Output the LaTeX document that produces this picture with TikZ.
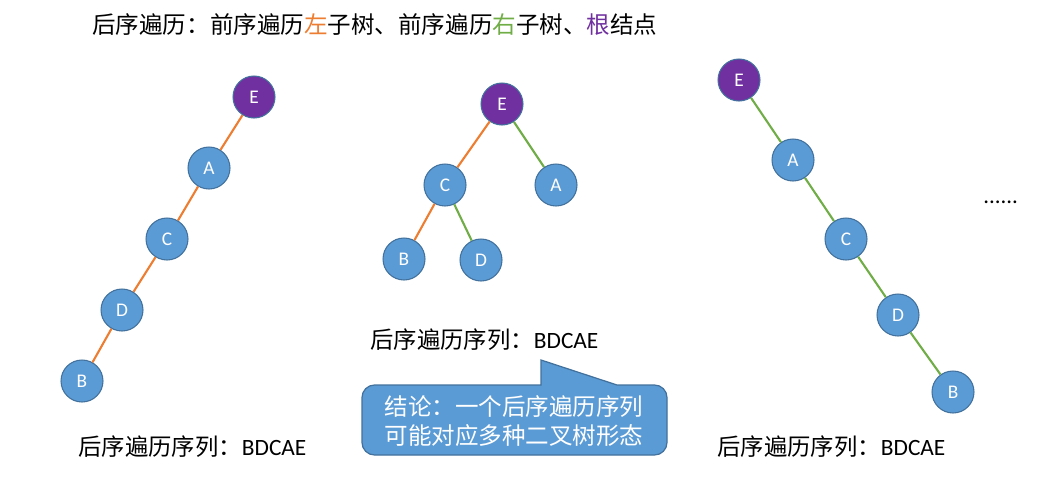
\documentclass[tikz,border=0pt]{standalone}
\usepackage{fontspec}
\setmainfont{Carlito}
\newfontfamily\cjk{Noto Sans CJK SC}
\definecolor{nodeblue}{HTML}{5B9BD5}
\definecolor{nodeline}{HTML}{41719C}
\definecolor{rootpurple}{HTML}{7030A0}
\definecolor{leftorange}{HTML}{ED7D31}
\definecolor{rightgreen}{HTML}{70AD47}
\begin{document}
\begin{tikzpicture}[x=0.02cm,y=-0.02cm,
    treenode/.style={circle,draw=nodeline,line width=0.6pt,fill=nodeblue,
        minimum size=0.84cm,inner sep=0pt,text=white,font=\fontsize{11}{13}\selectfont},
    rootnode/.style={treenode,fill=rootpurple},
    leftedge/.style={leftorange,line width=1.2pt},
    rightedge/.style={rightgreen,line width=1.2pt},
    label text/.style={inner sep=0pt,anchor=west,font=\fontsize{13.3}{16}\selectfont}]
    \useasboundingbox (0,0) rectangle (1055,477);

    % Titulo
    \node[label text,font=\fontsize{13.4}{16}\selectfont] (title) at (92,25)
        {\cjk 后序遍历：前序遍历\textcolor{leftorange}{左}子树、前序遍历\textcolor{rightgreen}{右}子树、\textcolor{rootpurple}{根}结点};

    % Primer arbol
    \node[rootnode] (e1) at (254,97) {E};
    \node[treenode] (a1) at (209,168) {A};
    \node[treenode] (c1) at (167,239) {C};
    \node[treenode] (d1) at (122,310) {D};
    \node[treenode] (b1) at (82,381) {B};
    \draw[leftedge] (e1) -- (a1);
    \draw[leftedge] (a1) -- (c1);
    \draw[leftedge] (c1) -- (d1);
    \draw[leftedge] (d1) -- (b1);
    \node[label text] (seq1) at (78,447) {{\cjk 后序遍历序列：}BDCAE};

    % Segundo arbol
    \node[rootnode] (e2) at (502,104) {E};
    \node[treenode] (c2) at (445,185) {C};
    \node[treenode] (a2) at (556,185) {A};
    \node[treenode] (b2) at (404,259) {B};
    \node[treenode] (d2) at (481,260) {D};
    \draw[leftedge] (e2) -- (c2);
    \draw[rightedge] (e2) -- (a2);
    \draw[leftedge] (c2) -- (b2);
    \draw[rightedge] (c2) -- (d2);
    \node[label text] (seq2) at (370,340) {{\cjk 后序遍历序列：}BDCAE};

    % Tercer arbol
    \node[rootnode] (e3) at (739,80) {E};
    \node[treenode] (a3) at (793,160) {A};
    \node[treenode] (c3) at (846,239) {C};
    \node[treenode] (d3) at (898,315) {D};
    \node[treenode] (b3) at (953,392) {B};
    \draw[rightedge] (e3) -- (a3);
    \draw[rightedge] (a3) -- (c3);
    \draw[rightedge] (c3) -- (d3);
    \draw[rightedge] (d3) -- (b3);
    \node[label text] (seq3) at (717,447) {{\cjk 后序遍历序列：}BDCAE};

    % Puntos
    \node[inner sep=0pt,anchor=base west,font=\fontsize{13}{16}\selectfont] (dots) at (983,203) {......};

    % Conclusion
    \draw[fill=nodeblue,draw=nodeline,line width=0.7pt]
        (541,385) -- (541,360) -- (617,385)
        [rounded corners=0.25cm] -- (667,385) -- (667,455) -- (362,455) -- (362,385)
        [sharp corners] -- cycle;
    \node[text=white,align=center,inner sep=0pt,font=\fontsize{13.4}{16.5}\selectfont\cjk] (concl) at (514,421)
        {结论：一个后序遍历序列\\可能对应多种二叉树形态};
\end{tikzpicture}
\end{document}
